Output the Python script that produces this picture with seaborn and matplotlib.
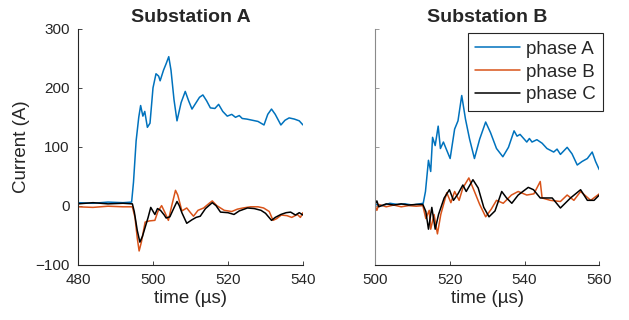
import pandas as pd
import matplotlib.pyplot as plt
import seaborn as sns

sns.set_theme(style="white")
plt.rcParams['font.family'] = ['Liberation Sans', 'DejaVu Sans']

# Substation A (time in us, current in A)
a_t_A = [480, 484, 488, 492, 494.3, 494.8, 495.5, 496.2, 496.7, 497.3, 497.8, 498.5, 499.2, 500, 500.8,
         501.5, 501.9, 502.8, 503.5, 504.2, 504.8, 505.6, 506.4, 507.5, 508.6, 509.5, 510.4, 511.5, 512.4,
         513.3, 514.3, 515.3, 516.5, 517.5, 518.6, 519.8, 521, 522, 523, 523.8, 525, 526.5, 528, 529.6,
         530.6, 531.6, 532.6, 534.1, 535.2, 536.3, 537.7, 539, 540]
a_i_A = [5, 4, 6, 5, 6, 40, 110, 150, 170, 152, 160, 133, 140, 200, 224,
         220, 212, 230, 241, 253, 230, 180, 144, 175, 194, 178, 164, 175, 184,
         188, 178, 166, 165, 172, 160, 152, 155, 150, 153, 148, 147, 145, 143, 137,
         155, 164, 155, 137, 145, 149, 147, 144, 137]

a_t_B = [480, 484, 488, 492, 494.5, 495.2, 495.8, 496.3, 496.9, 497.9, 499, 500.5, 501.3, 502.3, 503.2,
         504.1, 505, 506, 506.6, 507.7, 509, 510, 510.8, 512, 513.5, 515, 515.8, 517, 519, 521, 522.5,
         524, 526, 528, 529.5, 531, 532, 533, 534.2, 535.7, 537, 538.5, 539.3, 540]
a_i_B = [-2, -3, -1, -2, -2, -20, -55, -77, -62, -28, -26, -25, -10, 0, -12,
         -25, 0, 26, 18, -9, -4, -12, -18, -8, -4, 4, 8, 0, -8, -10, -6,
         -4, -2, -2, -4, -10, -25, -22, -16, -17, -20, -15, -20, -12]

a_t_C = [480, 484, 488, 492, 494.5, 495, 495.8, 496.5, 497.2, 497.9, 498.7, 499.4, 500.5, 501.2, 502,
         503, 503.5, 504.5, 505.5, 506.4, 507, 507.7, 509, 510.4, 511.5, 512.6, 514, 515.8, 516.8, 518,
         520, 521.6, 523, 525.2, 527, 528.8, 530, 531.6, 532.6, 534.1, 535.5, 536.7, 538, 539, 540]
a_i_C = [3, 5, 3, 4, 3, -10, -42, -62, -52, -37, -20, -3, -15, -5, -8,
         -16, -21, -19, -5, 7, 0, -12, -30, -24, -20, -18, -5, 5, 0, -11,
         -12, -15, -9, -4, -5, -8, -13, -25, -20, -15, -12, -11, -16, -12, -16]

# Substation B
b_t_A = [500, 502, 504, 506, 508, 510, 512, 512.9, 513.5, 514.3, 514.9, 515.4, 516.1, 516.9, 517.5,
         518.3, 519, 520.1, 521.3, 522.2, 523.2, 524.2, 525.3, 526.6, 528, 529.6, 530.9, 532.5, 534.2,
         535.7, 537.2, 538, 538.8, 540.6, 541.3, 542, 543.3, 544.7, 546, 547.8, 548.7, 549.6, 551.4,
         552.7, 554.1, 555.4, 556.8, 558.1, 559, 560]
b_i_A = [2, 0, 4, 2, 3, 1, 3, 4, 24, 77, 58, 116, 102, 135, 97,
         108, 97, 80, 130, 144, 187, 147, 113, 80, 113, 142, 124, 97, 83,
         99, 127, 118, 121, 108, 114, 108, 112, 106, 97, 91, 96, 87, 99,
         88, 69, 75, 80, 91, 75, 61]

b_t_B = [500, 500.5, 501, 503, 505, 507, 509, 511, 512.8, 513.6, 514.5, 514.9, 515.8, 516.7, 517.6,
         519.2, 520.3, 521.3, 522.5, 523.5, 525.1, 526.6, 528, 529.6, 531.1, 532.5, 534.3, 536.5, 538.3,
         540.6, 542.5, 544.2, 544.7, 546.9, 549.6, 551.4, 553.2, 555, 557.7, 560]
b_i_B = [0, -8, 2, -2, 1, -2, 0, -1, 0, -22, -8, -40, -15, -48, -15,
         22, 5, 24, 9, 30, 47, 24, 2, -19, -6, 9, 4, 18, 24,
         18, 20, 41, 13, 9, 7, 18, 9, 24, 9, 20]

b_t_C = [500, 500.5, 501, 503, 505, 507, 509, 511, 512.8, 513.6, 514.3, 515.2, 516.1, 517, 518.5,
         519.9, 521, 522.2, 523.5, 524.4, 526.2, 527.6, 529.1, 530.5, 532.1, 533.9, 535.2, 536.6, 538.3,
         541, 542.4, 544.2, 547.4, 549.6, 552.3, 555, 556.8, 558.6, 560]
b_i_C = [2, 8, -2, 3, 1, 3, 1, 2, 2, -10, -40, -3, -40, -15, 13,
         27, 9, 20, 35, 24, 44, 30, -3, -19, -9, 24, 13, 4, 18,
         31, 27, 13, 13, -4, 13, 27, 9, 9, 18]

phases = ['phase A', 'phase B', 'phase C']
colors = {'phase A': '#0072BD', 'phase B': '#D95319', 'phase C': '#000000'}


def long_df(series):
    frames = []
    for name, (t, i) in zip(phases, series):
        frames.append(pd.DataFrame({'time': t, 'current': i, 'phase': name}))
    return pd.concat(frames, ignore_index=True)


df_a = long_df([(a_t_A, a_i_A), (a_t_B, a_i_B), (a_t_C, a_i_C)])
df_b = long_df([(b_t_A, b_i_A), (b_t_B, b_i_B), (b_t_C, b_i_C)])

fig = plt.figure(figsize=(6.29, 3.2), dpi=100)
ax1 = fig.add_axes([78 / 629, 1 - 264.5 / 320, 225 / 629, 235.5 / 320])
ax2 = fig.add_axes([375 / 629, 1 - 264.5 / 320, 224.3 / 629, 235.5 / 320])

dark = '#262626'
for ax, df, title, xlim in [(ax1, df_a, 'Substation A', (480, 540)),
                            (ax2, df_b, 'Substation B', (500, 560))]:
    sns.lineplot(data=df, x='time', y='current', hue='phase', palette=colors,
                 estimator=None, sort=False, linewidth=1.1, ax=ax,
                 legend=(ax is ax2))
    ax.set_xlim(*xlim)
    ax.set_ylim(-100, 300)
    ax.set_xticks(range(xlim[0], xlim[1] + 1, 20))
    ax.set_yticks([-100, 0, 100, 200, 300])
    ax.set_title(title, fontsize=14, fontweight='bold', pad=5)
    ax.set_xlabel('time (µs)', fontsize=13.5, color=dark, labelpad=2)
    ax.tick_params(direction='in', length=3, width=0.6, colors=dark, labelsize=11,
                   top=False, right=False, bottom=True, left=True, pad=6)
    for side in ['top', 'right']:
        ax.spines[side].set_visible(False)
    for side in ['left', 'bottom']:
        ax.spines[side].set_color(dark)
        ax.spines[side].set_linewidth(0.8)

ax1.set_ylabel('Current (A)', fontsize=13.5, color=dark, labelpad=4)
ax2.set_ylabel('')
ax2.set_yticklabels([])
ax2.spines['left'].set_color('#8a8a8a')
ax2.tick_params(axis='y', colors='#8a8a8a')

leg = ax2.legend(loc='upper right', bbox_to_anchor=(1.018, 0.982), borderaxespad=0,
                 fontsize=13.5, frameon=True, fancybox=False, framealpha=1,
                 edgecolor='#262626', handlelength=2.4, handletextpad=0.3,
                 labelspacing=0.3, borderpad=0.4)
leg.get_frame().set_linewidth(0.8)

fig.savefig('out.png', dpi=100)
